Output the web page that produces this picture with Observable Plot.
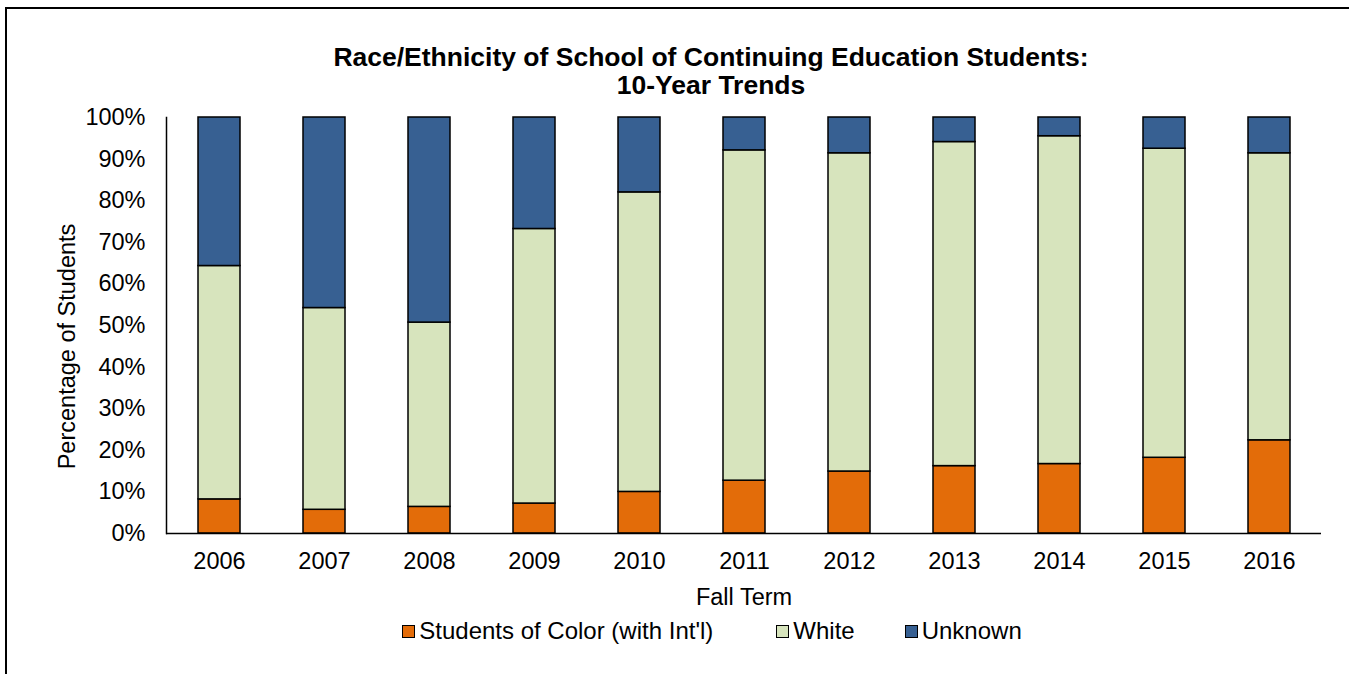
<!DOCTYPE html>
<html><head><meta charset="utf-8">
<script src="https://cdn.jsdelivr.net/npm/d3@7"></script>
<script src="https://cdn.jsdelivr.net/npm/@observablehq/plot@0.6"></script>
<style>
body{margin:0;background:#fff;font-family:"Liberation Sans",Arial,sans-serif;color:#000;}
#wrap{position:relative;width:1349px;height:674px;overflow:hidden;}
#border{position:absolute;left:5px;top:7px;width:1500px;height:800px;border:2px solid #000;box-sizing:border-box;}
#title{position:absolute;left:0;width:1422px;top:43px;text-align:center;font-weight:bold;font-size:26.5px;line-height:28px;}
#chart{position:absolute;left:0;top:100px;}
#legend{position:absolute;left:0;width:1424px;top:616px;height:30px;display:flex;justify-content:center;align-items:center;font-size:24px;}
.item{display:flex;align-items:center;}
.sw{width:11px;height:11px;border:1.5px solid #000;margin-right:4px;}
</style></head><body>
<div id="wrap">
  <div id="border"></div>
  <div id="title">Race/Ethnicity of School of Continuing Education Students:<br>10-Year Trends</div>
  <div id="chart"></div>
  <div id="legend"></div>
</div>
<script>
const years = ["2006","2007","2008","2009","2010","2011","2012","2013","2014","2015","2016"];
const groups = ["Students of Color (with Int'l)", "White", "Unknown"];
const colors = ["#E36C09", "#D7E4BD", "#376092"];
const studentsOfColor = [8.2, 5.7, 6.4, 7.2, 10.0, 12.7, 14.9, 16.2, 16.7, 18.2, 22.4];
const white = [56.1, 48.5, 44.3, 66.0, 72.0, 79.4, 76.5, 77.9, 78.8, 74.3, 69.0];
const unknown = [35.7, 45.8, 49.3, 26.8, 18.0, 7.9, 8.6, 5.9, 4.5, 7.5, 8.6];
const yTicks = [0, 10, 20, 30, 40, 50, 60, 70, 80, 90, 100];
const xTitle = "Fall Term";
const yTitle = "Percentage of Students";

const series = [studentsOfColor, white, unknown];
const rows = years.flatMap((yr, i) => groups.map((g, j) => ({year: yr, group: g, value: series[j][i]})));

const chart = Plot.plot({
  width: 1349, height: 520,
  marginTop: 17, marginBottom: 87, marginLeft: 166, marginRight: 28,
  style: {fontFamily: "'Liberation Sans', Arial, sans-serif", fontSize: "23.5px", color: "#000", background: "transparent", overflow: "visible"},
  x: {domain: years, paddingInner: 0.6, paddingOuter: 0.3, label: null},
  y: {domain: [0, 100], label: null},
  color: {domain: groups, range: colors},
  marks: [
    Plot.barY(rows, {x: "year", y: "value", fill: "group", stroke: "#000", strokeWidth: 1.5, order: groups}),
    Plot.ruleY([0], {stroke: "#000", strokeWidth: 1.5}),
    Plot.frame({anchor: "left", stroke: "#000", strokeWidth: 1.5}),
    Plot.axisX({tickSize: 0, tickPadding: 19, label: null, fontSize: 23.5}),
    Plot.axisY({ticks: yTicks, tickFormat: d => d + "%", tickSize: 0, tickPadding: 21, label: null, fontSize: 23.5}),
    Plot.text([xTitle], {text: d => d, frameAnchor: "bottom", dy: 64, lineAnchor: "middle", fontSize: 23.5}),
    Plot.text([yTitle], {text: d => d, frameAnchor: "left", dx: -99, dy: 21, rotate: -90, textAnchor: "middle", lineAnchor: "middle", fontSize: 23.5})
  ]
});
document.getElementById("chart").appendChild(chart);

const legend = document.getElementById("legend");
const gaps = [63, 50, 0];
groups.forEach((g, i) => {
  const it = document.createElement("div");
  it.className = "item";
  it.style.marginRight = gaps[i] + "px";
  const sw = document.createElement("div");
  sw.className = "sw";
  sw.style.background = colors[i];
  const tx = document.createElement("span");
  tx.textContent = g;
  it.appendChild(sw); it.appendChild(tx);
  legend.appendChild(it);
});
</script>
</body></html>
